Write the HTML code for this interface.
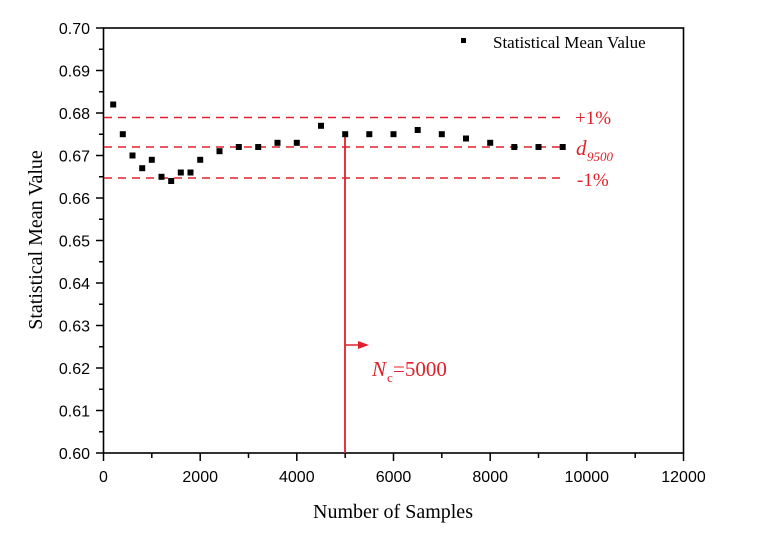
<!DOCTYPE html>
<html><head><style>body{margin:0;background:#fff}</style></head><body>
<svg width="760" height="547" xmlns="http://www.w3.org/2000/svg">
<rect width="760" height="547" fill="#fff"/>
<rect x="103.5" y="28" width="580" height="425" fill="none" stroke="#000" stroke-width="1.6"/>
<g stroke="#000" stroke-width="1.5">
<line x1="96" y1="28" x2="103.5" y2="28"/><line x1="96" y1="70.5" x2="103.5" y2="70.5"/><line x1="96" y1="113" x2="103.5" y2="113"/><line x1="96" y1="155.5" x2="103.5" y2="155.5"/><line x1="96" y1="198" x2="103.5" y2="198"/><line x1="96" y1="240.5" x2="103.5" y2="240.5"/><line x1="96" y1="283" x2="103.5" y2="283"/><line x1="96" y1="325.5" x2="103.5" y2="325.5"/><line x1="96" y1="368" x2="103.5" y2="368"/><line x1="96" y1="410.5" x2="103.5" y2="410.5"/><line x1="96" y1="453" x2="103.5" y2="453"/>
<line x1="99" y1="49.25" x2="103.5" y2="49.25"/><line x1="99" y1="91.75" x2="103.5" y2="91.75"/><line x1="99" y1="134.25" x2="103.5" y2="134.25"/><line x1="99" y1="176.75" x2="103.5" y2="176.75"/><line x1="99" y1="219.25" x2="103.5" y2="219.25"/><line x1="99" y1="261.75" x2="103.5" y2="261.75"/><line x1="99" y1="304.25" x2="103.5" y2="304.25"/><line x1="99" y1="346.75" x2="103.5" y2="346.75"/><line x1="99" y1="389.25" x2="103.5" y2="389.25"/><line x1="99" y1="431.75" x2="103.5" y2="431.75"/>
<line x1="103.5" y1="453" x2="103.5" y2="461"/><line x1="200.2" y1="453" x2="200.2" y2="461"/><line x1="296.8" y1="453" x2="296.8" y2="461"/><line x1="393.5" y1="453" x2="393.5" y2="461"/><line x1="490.2" y1="453" x2="490.2" y2="461"/><line x1="586.8" y1="453" x2="586.8" y2="461"/><line x1="683.5" y1="453" x2="683.5" y2="461"/>
<line x1="151.8" y1="453" x2="151.8" y2="458"/><line x1="248.5" y1="453" x2="248.5" y2="458"/><line x1="345.2" y1="453" x2="345.2" y2="458"/><line x1="441.8" y1="453" x2="441.8" y2="458"/><line x1="538.5" y1="453" x2="538.5" y2="458"/><line x1="635.2" y1="453" x2="635.2" y2="458"/>
</g>
<g font-family="Liberation Sans, sans-serif" font-size="16" fill="#000" text-anchor="end">
<text x="90" y="34">0.70</text><text x="90" y="76.5">0.69</text><text x="90" y="119">0.68</text><text x="90" y="161.5">0.67</text><text x="90" y="204">0.66</text><text x="90" y="246.5">0.65</text><text x="90" y="289">0.64</text><text x="90" y="331.5">0.63</text><text x="90" y="374">0.62</text><text x="90" y="416.5">0.61</text><text x="90" y="459">0.60</text>
</g>
<g font-family="Liberation Sans, sans-serif" font-size="16" fill="#000" text-anchor="middle">
<text x="103.5" y="482">0</text><text x="200.2" y="482">2000</text><text x="296.8" y="482">4000</text><text x="393.5" y="482">6000</text><text x="490.2" y="482">8000</text><text x="586.8" y="482">10000</text><text x="683.5" y="482">12000</text>
</g>
<text x="393" y="518" font-family="Liberation Serif, serif" font-size="20" text-anchor="middle">Number of Samples</text>
<text transform="translate(42,240) rotate(-90)" font-family="Liberation Serif, serif" font-size="20" text-anchor="middle">Statistical Mean Value</text>
<g stroke="#e0202a" stroke-width="1.5" stroke-dasharray="8,6">
<line x1="104" y1="117.5" x2="565" y2="117.5"/><line x1="104" y1="147" x2="565" y2="147"/><line x1="104" y1="178" x2="565" y2="178"/>
</g>
<line x1="345" y1="135" x2="345" y2="453" stroke="#e0202a" stroke-width="1.8"/>
<line x1="345" y1="345" x2="362" y2="345" stroke="#e0202a" stroke-width="1.5"/>
<polygon points="369,345 358,341 358,349" fill="#e0202a"/>
<g font-family="Liberation Serif, serif" fill="#e0202a">
<text x="575" y="124" font-size="19">+1%</text>
<text x="576" y="155" font-size="21" font-style="italic">d</text><text x="587" y="161" font-size="13" font-style="italic">9500</text>
<text x="577" y="186" font-size="19">-1%</text>
<text x="372" y="376" font-size="21" font-style="italic">N</text><text x="387" y="382" font-size="13">c</text><text x="393" y="376" font-size="21">=5000</text>
</g>
<rect x="461" y="38" width="5" height="5" fill="#000"/>
<text x="493" y="48" font-family="Liberation Serif, serif" font-size="17">Statistical Mean Value</text>
<g fill="#000">
<rect x="110.2" y="101.5" width="6" height="6"/>
<rect x="119.8" y="131.2" width="6" height="6"/>
<rect x="129.5" y="152.5" width="6" height="6"/>
<rect x="139.2" y="165.2" width="6" height="6"/>
<rect x="148.8" y="156.8" width="6" height="6"/>
<rect x="158.5" y="173.8" width="6" height="6"/>
<rect x="168.2" y="178" width="6" height="6"/>
<rect x="177.8" y="169.5" width="6" height="6"/>
<rect x="187.5" y="169.5" width="6" height="6"/>
<rect x="197.2" y="156.8" width="6" height="6"/>
<rect x="216.5" y="148.2" width="6" height="6"/>
<rect x="235.8" y="144" width="6" height="6"/>
<rect x="255.2" y="144" width="6" height="6"/>
<rect x="274.5" y="139.8" width="6" height="6"/>
<rect x="293.8" y="139.8" width="6" height="6"/>
<rect x="318" y="122.8" width="6" height="6"/>
<rect x="342.2" y="131.2" width="6" height="6"/>
<rect x="366.3" y="131.2" width="6" height="6"/>
<rect x="390.5" y="131.2" width="6" height="6"/>
<rect x="414.7" y="127" width="6" height="6"/>
<rect x="438.8" y="131.2" width="6" height="6"/>
<rect x="463" y="135.5" width="6" height="6"/>
<rect x="487.2" y="139.8" width="6" height="6"/>
<rect x="511.3" y="144" width="6" height="6"/>
<rect x="535.5" y="144" width="6" height="6"/>
<rect x="559.7" y="144" width="6" height="6"/>
</g>
</svg>
</body></html>
